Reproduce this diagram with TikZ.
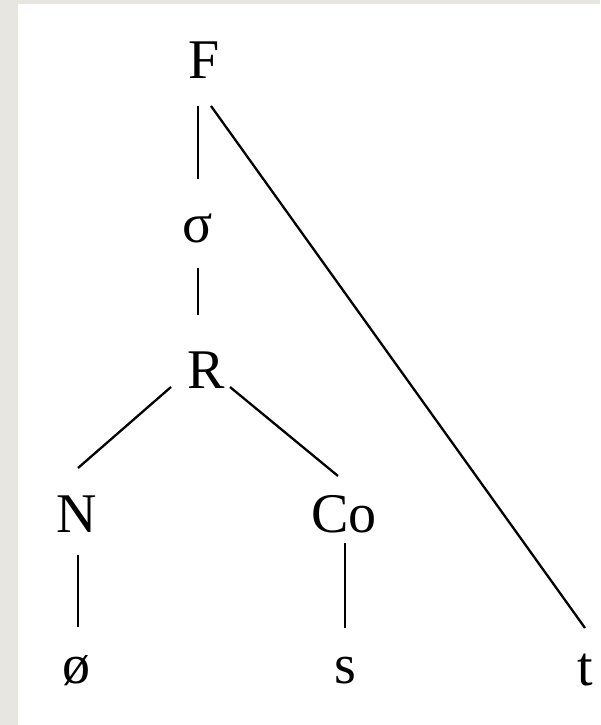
\documentclass[tikz,border=0pt]{standalone}
\usepackage{fontspec}
\setmainfont{Liberation Serif}
\definecolor{framegray}{HTML}{E8E6E1}
\begin{document}
\begin{tikzpicture}[x=1pt,y=-1pt,
  lab/.style={anchor=base,inner sep=0pt,font=\fontsize{56}{60}\selectfont},
  branch/.style={line width=2.3pt,black}]
\useasboundingbox (0,0) rectangle (600,725);
\fill[framegray] (0,0) rectangle (600,725);
\fill[white] (18,4) rectangle (600,725);
% labels
\node[lab] (F) at (204,78) {F};
\node[lab] (sig) at (198,242) {σ};
\node[lab] (R) at (206,388) {R};
\node[lab] (N) at (77,532) {N};
\node[lab] (Co) at (344,532) {Co};
\node[lab] (o) at (76,683) {ø};
\node[lab] (s) at (345,683) {s};
\node[lab] (t) at (585,685) {t};
% connector ends
\coordinate (Fa) at (198,106);
\coordinate (sa) at (198,179);
\coordinate (sb) at (198,268);
\coordinate (Ra) at (198,315);
\coordinate (Rl) at (171,387);
\coordinate (Na) at (78,468);
\coordinate (Rr) at (230,387);
\coordinate (Coa) at (338,476);
\coordinate (Nb) at (78,555);
\coordinate (oa) at (78,627);
\coordinate (Cob) at (345,543);
\coordinate (sa2) at (345,628);
\coordinate (Fb) at (211,106);
\coordinate (ta) at (585,628);
\draw[branch] (Fa) -- (sa);
\draw[branch] (sb) -- (Ra);
\draw[branch] (Rl) -- (Na);
\draw[branch] (Rr) -- (Coa);
\draw[branch] (Nb) -- (oa);
\draw[branch] (Cob) -- (sa2);
\draw[branch] (Fb) -- (ta);
\end{tikzpicture}
\end{document}
